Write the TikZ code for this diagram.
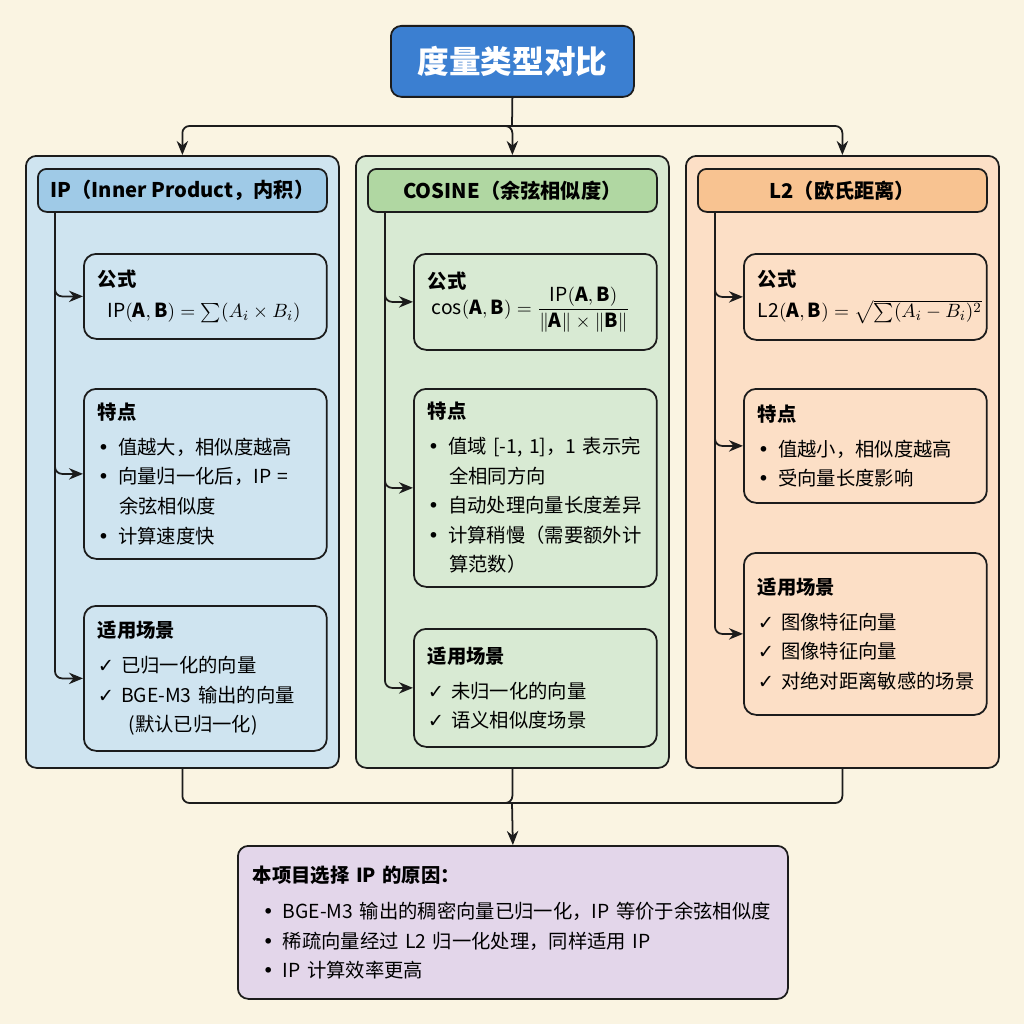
\documentclass[tikz,border=0pt]{standalone}
\usepackage{amsmath}
\usepackage{fontspec}
\setmainfont{Noto Sans CJK SC}
\newfontfamily\symf{DejaVu Sans}
\usetikzlibrary{arrows.meta,calc,positioning}

\definecolor{bgcream}{HTML}{FAF4E2}
\definecolor{titleblue}{HTML}{3B7FD1}
\definecolor{ipfill}{HTML}{CFE4F0}
\definecolor{iphead}{HTML}{9FCAE7}
\definecolor{cosfill}{HTML}{D8EAD3}
\definecolor{coshead}{HTML}{B0D7A2}
\definecolor{ltfill}{HTML}{FCDFC6}
\definecolor{lthead}{HTML}{F8C391}
\definecolor{whyfill}{HTML}{E3D6EA}
\definecolor{edge}{HTML}{1C1C1C}

\newcommand\bu{\makebox[1.05em][l]{\symf •}}
\newcommand\ck{\makebox[1.2em][l]{\symf ✓}}
\newcommand\ind{\hspace*{1.1em}}

\begin{document}
\begin{tikzpicture}[x=0.02cm, y=-0.02cm]
    \tikzset{
        body/.style={font=\fontsize{11}{16.8}\selectfont},
        col/.style 2 args={draw=edge, line width=1pt, rounded corners=6pt,
            anchor=north west, minimum width=#1*0.02cm,
            minimum height=#2*0.02cm, inner sep=0pt},
        head/.style={draw=edge, line width=1pt, rounded corners=5pt,
            anchor=north west, minimum width=289*0.02cm,
            minimum height=43*0.02cm, font=\fontsize{11.5}{14}\bfseries\selectfont},
        sub/.style={draw=edge, line width=1pt, rounded corners=7pt,
            anchor=north west, text width=4.3cm, inner xsep=0.28cm,
            minimum height=#1*0.02cm, align=left, body},
        line/.style={draw=edge, line width=1pt, rounded corners=4pt},
        arr/.style={line, -{Stealth[length=8pt,width=6.5pt]}}
    }

    \fill[bgcream] (0,0) rectangle (1024,1024);

    \node[col={243}{71}, fill=titleblue, text=white,
        font=\fontsize{18}{21}\bfseries\selectfont] (title) at (390,25) {度量类型对比};

    \node[col={313}{612}, fill=ipfill] (colIP) at (25,155) {};
    \node[col={313}{612}, fill=cosfill] (colCOS) at (355,155) {};
    \node[col={313}{612}, fill=ltfill] (colL2) at (685,155) {};

    \node[head, fill=iphead] (hdIP) at (37,168) {IP（Inner Product，内积）};
    \node[head, fill=coshead] (hdCOS) at (367,168) {COSINE（余弦相似度）};
    \node[head, fill=lthead] (hdL2) at (697,168) {L2（欧氏距离）};

    % IP
    \node[sub=85, fill=ipfill] (fIP) at (83,253) {{\bfseries 公式}\\[1pt]
        \hspace*{0.5em}$\text{IP}(\textbf{A}, \textbf{B}) = \sum(A_i \times B_i)$};
    \node[sub=170, fill=ipfill] (tIP) at (83,388) {{\bfseries 特点}\\[3pt]
        \bu 值越大，相似度越高\\
        \bu 向量归一化后，IP =\\
        \ind 余弦相似度\\
        \bu 计算速度快};
    \node[sub=145, fill=ipfill] (sIP) at (83,605) {{\bfseries 适用场景}\\[3pt]
        \ck 已归一化的向量\\
        \ck BGE-M3 输出的向量\\
        \hspace*{1.6em}(默认已归一化)};

    % COSINE
    \node[sub=96, fill=cosfill] (fCOS) at (413,253) {{\bfseries 公式}\\[-2pt]
        \hspace*{0.2em}$\text{cos}(\textbf{A}, \textbf{B}) =
        \dfrac{\text{IP}(\textbf{A}, \textbf{B})}{\|\textbf{A}\| \times \|\textbf{B}\|}$};
    \node[sub=198, fill=cosfill] (tCOS) at (413,388) {{\bfseries 特点}\\[3pt]
        \bu 值域 [-1, 1]，1 表示完\\
        \ind 全相同方向\\
        \bu 自动处理向量长度差异\\
        \bu 计算稍慢（需要额外计\\
        \ind 算范数）};
    \node[sub=118, fill=cosfill] (sCOS) at (413,628) {{\bfseries 适用场景}\\[3pt]
        \ck 未归一化的向量\\
        \ck 语义相似度场景};

    % L2
    \node[sub=86, fill=ltfill] (fL2) at (743,253) {{\bfseries 公式}\\[1pt]
        \makebox[0pt][l]{$\text{L2}(\textbf{A}, \textbf{B}) = \sqrt{\sum(A_i - B_i)^2}$}};
    \node[sub=114, fill=ltfill] (tL2) at (743,388) {{\bfseries 特点}\\[3pt]
        \bu 值越小，相似度越高\\
        \bu 受向量长度影响};
    \node[sub=162, fill=ltfill] (sL2) at (743,552) {{\bfseries 适用场景}\\[3pt]
        \ck 图像特征向量\\
        \ck 图像特征向量\\
        \ck 对绝对距离敏感的场景};

    \node[col={550}{153}, fill=whyfill, text width=10.4cm, inner xsep=0.3cm,
        align=left, body] (why) at (237,845) {{\bfseries 本项目选择 IP 的原因：}\\[4pt]
        \hspace*{0.5em}\bu BGE-M3 输出的稠密向量已归一化，IP 等价于余弦相似度\\
        \hspace*{0.5em}\bu 稀疏向量经过 L2 归一化处理，同样适用 IP\\
        \hspace*{0.5em}\bu IP 计算效率更高};

    \coordinate (split) at (512,126);
    \coordinate (join) at (512,803);
    \draw[line] (title.south) -- (split);
    \foreach \c in {IP,COS,L2} {
        \draw[arr] (split) -| (col\c.north);
        \draw[line] (col\c.south) |- (join);
        \coordinate (spine\c) at ($(hd\c.south west)+(18,0)$);
        \foreach \b in {f,t,s}
            \draw[arr] (spine\c) |- (\b\c.west);
    }
    \draw[arr] (join) -- (why.north);
\end{tikzpicture}
\end{document}
